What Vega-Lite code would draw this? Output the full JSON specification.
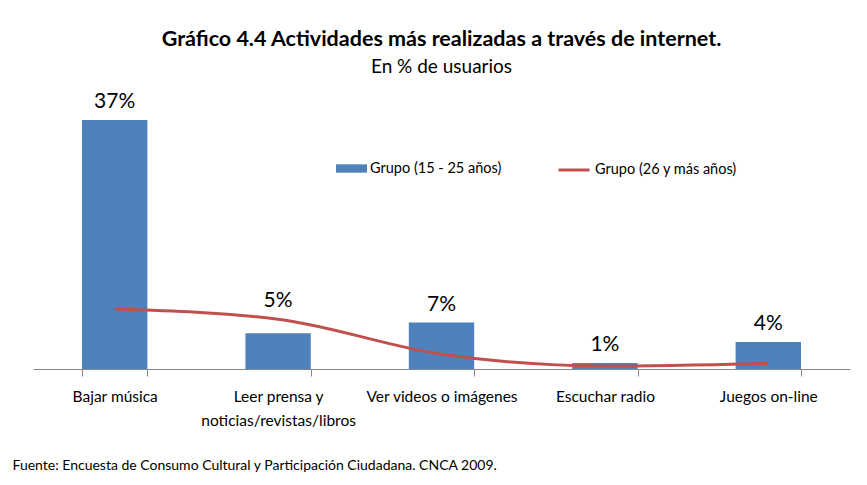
{
  "$schema": "https://vega.github.io/schema/vega-lite/v6.json",
  "width": 817,
  "height": 249,
  "autosize": {"type": "none"},
  "padding": {"left": 33, "top": 120, "right": 17, "bottom": 116},
  "background": "white",
  "config": {"view": {"stroke": null}, "font": "Lato"},
  "title": {
    "text": "Gráfico 4.4 Actividades más realizadas a través de internet.",
    "subtitle": "En % de usuarios",
    "fontSize": 21.5,
    "fontWeight": "bold",
    "font": "Lato",
    "subtitleFont": "Lato",
    "subtitleFontSize": 19,
    "anchor": "middle",
    "offset": 14,
    "color": "#000000",
    "subtitleColor": "#000000",
    "subtitlePadding": 8
  },
  "data": {
    "values": [
      {"actividad": "Bajar música", "grupo": "Grupo (15 - 25 años)", "valor": 0.37},
      {"actividad": "Leer prensa y|noticias/revistas/libros", "grupo": "Grupo (15 - 25 años)", "valor": 0.053},
      {"actividad": "Ver videos  o imágenes", "grupo": "Grupo (15 - 25 años)", "valor": 0.069},
      {"actividad": "Escuchar radio", "grupo": "Grupo (15 - 25 años)", "valor": 0.009},
      {"actividad": "Juegos on-line", "grupo": "Grupo (15 - 25 años)", "valor": 0.04},
      {"actividad": "Bajar música", "grupo": "Grupo (26 y más años)", "valor": 0.089},
      {"actividad": "Leer prensa y|noticias/revistas/libros", "grupo": "Grupo (26 y más años)", "valor": 0.074},
      {"actividad": "Ver videos  o imágenes", "grupo": "Grupo (26 y más años)", "valor": 0.022},
      {"actividad": "Escuchar radio", "grupo": "Grupo (26 y más años)", "valor": 0.0045},
      {"actividad": "Juegos on-line", "grupo": "Grupo (26 y más años)", "valor": 0.0085}
    ]
  },
  "encoding": {
    "x": {
      "field": "actividad",
      "type": "nominal",
      "sort": null,
      "scale": {"paddingInner": 0.6, "paddingOuter": 0.3},
      "axis": {
        "labelAngle": 0,
        "labelExpr": "split(datum.label, '|')",
        "labelFontSize": 15.5,
        "labelColor": "#000000",
        "labelPadding": 13,
        "labelLineHeight": 24,
        "domainColor": "#888888",
        "tickColor": "#888888",
        "tickSize": 7,
        "tickBand": "extent",
        "title": "Fuente: Encuesta de Consumo Cultural y Participación Ciudadana. CNCA 2009.",
        "titleFontSize": 14,
        "titleFontWeight": "normal",
        "titleColor": "#000000",
        "titleAlign": "left",
        "titleBaseline": "middle",
        "titleAnchor": "start",
        "titleX": -21,
        "titleY": 96
      }
    }
  },
  "layer": [
    {
      "transform": [{"filter": "datum.grupo == 'Grupo (15 - 25 años)'"}],
      "mark": {"type": "bar"},
      "encoding": {
        "y": {"field": "valor", "type": "quantitative", "scale": {"domain": [0, 0.37], "nice": false}, "axis": null},
        "fill": {
          "field": "grupo",
          "type": "nominal",
          "scale": {"domain": ["Grupo (15 - 25 años)"], "range": ["#4F81BD"]},
          "legend": {
            "orient": "none",
            "legendX": 303,
            "legendY": 33,
            "title": null,
            "symbolType": "M-1,-0.27H1V0.27H-1Z",
            "symbolSize": 961,
            "symbolStrokeWidth": 0,
            "labelFontSize": 14.5,
            "labelColor": "#000000",
            "labelOffset": 3
          }
        }
      }
    },
    {
      "transform": [{"filter": "datum.grupo == 'Grupo (26 y más años)'"}],
      "mark": {"type": "line", "interpolate": "monotone", "strokeWidth": 3},
      "encoding": {
        "y": {"field": "valor", "type": "quantitative"},
        "stroke": {
          "field": "grupo",
          "type": "nominal",
          "scale": {"domain": ["Grupo (26 y más años)"], "range": ["#C0504D"]},
          "legend": {
            "orient": "none",
            "legendX": 524,
            "legendY": 33,
            "title": null,
            "symbolType": "stroke",
            "symbolSize": 961,
            "symbolStrokeWidth": 3,
            "labelFontSize": 14.5,
            "labelColor": "#000000",
            "labelOffset": 4
          }
        }
      }
    },
    {
      "transform": [
        {"joinaggregate": [{"op": "max", "field": "valor", "as": "tope"}], "groupby": ["actividad"]},
        {"filter": "datum.grupo == 'Grupo (15 - 25 años)'"}
      ],
      "mark": {"type": "text", "fontSize": 21, "dy": -12, "baseline": "alphabetic", "color": "#000000"},
      "encoding": {
        "y": {"field": "tope", "type": "quantitative"},
        "text": {"field": "valor", "type": "quantitative", "format": ".0%"}
      }
    }
  ]
}
